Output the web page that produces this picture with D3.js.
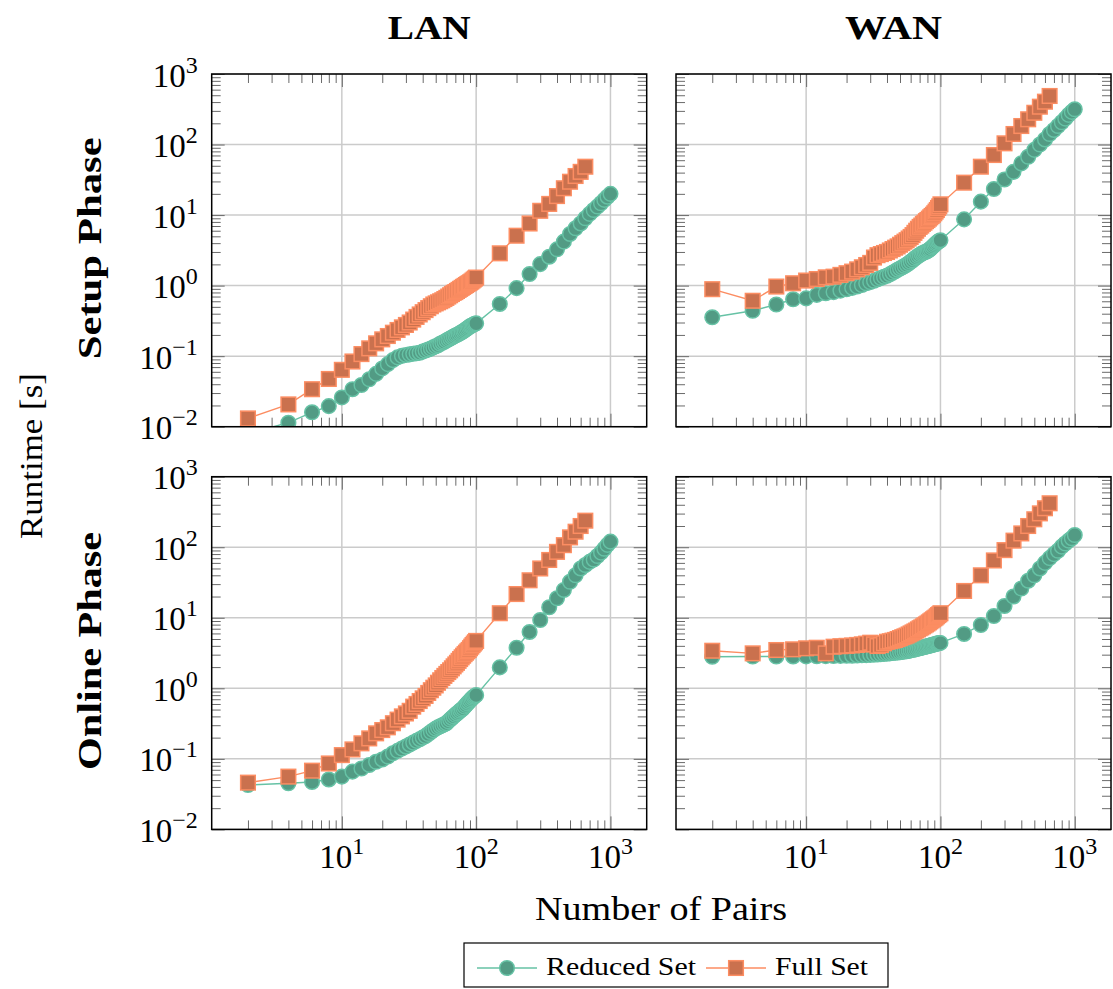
<!DOCTYPE html>
<html>
<head>
<meta charset="utf-8">
<script src="https://cdn.jsdelivr.net/npm/d3@7"></script>
<style>
  body { margin: 0; background: #fff; }
  svg text { font-family: "Liberation Serif", "DejaVu Serif", serif; fill: #000; }
</style>
</head>
<body>
<div id="chart"></div>
<script>
// x values (number of pairs)
const xReduced = [2,4,6,8,10,12,14,16,18,20,22,24,26,28,30,32,34,36,38,40,42,44,46,48,50,
  52,54,56,58,60,62,64,66,68,70,72,74,76,78,80,82,84,86,88,90,92,94,96,98,100,
  150,200,250,300,350,400,450,500,550,600,650,700,750,800,850,900,950,1000];
const xFull = [2,4,6,8,10,12,14,16,18,20,22,24,26,28,30,32,34,36,38,40,42,44,46,48,50,
  52,54,56,58,60,62,64,66,68,70,72,74,76,78,80,82,84,86,88,90,92,94,96,98,100,
  150,200,250,300,350,400,450,500,550,600,650];

// runtimes [s]
const lanSetupReduced = [0.008,0.0114,0.016,0.0196,0.026,0.034,0.039,0.047,0.056,0.067,
  0.077,0.088,0.096,0.101,0.104,0.106,0.108,0.11,0.112,0.116,
  0.12,0.124,0.128,0.133,0.138,0.143,0.15,0.155,0.16,0.166,
  0.172,0.178,0.184,0.19,0.196,0.2,0.206,0.212,0.218,0.225,
  0.232,0.24,0.248,0.256,0.264,0.27,0.276,0.282,0.288,0.292,
  0.55,0.92,1.46,2.02,2.57,3.27,4.2,5.4,6.5,7.6,9.0,10.4,11.8,13.2,14.7,16.4,18.2,20];
const lanSetupFull = [0.0131,0.0207,0.034,0.0475,0.064,0.084,0.107,0.129,0.152,0.173,
  0.193,0.215,0.235,0.256,0.277,0.3,0.33,0.36,0.39,0.42,
  0.45,0.48,0.51,0.54,0.56,0.58,0.6,0.62,0.645,0.67,
  0.7,0.73,0.76,0.79,0.81,0.84,0.87,0.9,0.93,0.96,
  0.99,1.02,1.05,1.08,1.11,1.14,1.18,1.22,1.26,1.3,
  2.87,5.1,7.6,11.5,14.4,18.6,24,29.7,35.8,41,48.5];
const wanSetupReduced = [0.356,0.44,0.54,0.64,0.66,0.74,0.78,0.81,0.85,0.89,
  0.93,0.97,1.02,1.08,1.12,1.17,1.23,1.28,1.33,1.38,
  1.45,1.52,1.6,1.68,1.75,1.82,1.9,1.98,2.08,2.18,
  2.28,2.4,2.52,2.62,2.72,2.82,2.9,2.96,3.02,3.1,
  3.2,3.3,3.45,3.6,3.75,3.9,4.05,4.2,4.3,4.4,
  8.7,15.5,23.4,32,41,54,67,84,100,118,141,161,183,207,233,263,290,316];
const wanSetupFull = [0.89,0.61,0.97,1.08,1.18,1.24,1.31,1.34,1.42,1.5,
  1.58,1.7,1.82,1.96,2.1,2.5,2.7,2.8,2.9,3.0,
  3.15,3.3,3.45,3.6,3.8,4.0,4.2,4.4,4.65,4.9,
  5.2,5.6,6.0,6.4,6.8,7.1,7.5,7.8,8.2,8.5,
  8.9,9.3,9.7,10.1,10.6,11.2,11.8,12.6,13.3,14.2,
  28.8,48.5,71,104,141,183,228,282,344,405,488];
const lanOnlineReduced = [0.0425,0.045,0.047,0.051,0.056,0.066,0.073,0.082,0.091,0.098,
  0.108,0.12,0.13,0.14,0.15,0.16,0.17,0.18,0.19,0.2,
  0.21,0.225,0.24,0.255,0.268,0.28,0.29,0.3,0.31,0.32,
  0.34,0.36,0.38,0.4,0.42,0.44,0.46,0.48,0.5,0.52,
  0.55,0.58,0.61,0.64,0.67,0.7,0.73,0.76,0.78,0.8,
  1.98,3.76,6.3,9.3,14.1,18.9,24.8,32.4,40,50,56,62,67,75,84,95,108,120];
const lanOnlineFull = [0.046,0.056,0.068,0.086,0.113,0.136,0.166,0.195,0.23,0.256,
  0.28,0.32,0.36,0.4,0.44,0.48,0.55,0.6,0.66,0.72,
  0.78,0.86,0.94,1.02,1.1,1.2,1.3,1.4,1.5,1.6,
  1.7,1.8,1.92,2.05,2.18,2.3,2.45,2.6,2.75,2.9,
  3.05,3.2,3.35,3.5,3.7,3.9,4.1,4.3,4.5,4.7,
  11.6,21.7,34,50,66,86,107,138,166,200,238];
const wanOnlineReduced = [2.8,2.82,2.82,2.83,2.84,2.85,2.86,2.87,2.88,2.89,
  2.9,2.92,2.94,2.96,2.98,3.0,3.02,3.05,3.08,3.1,
  3.13,3.16,3.19,3.22,3.25,3.28,3.32,3.36,3.4,3.45,
  3.5,3.55,3.6,3.65,3.7,3.75,3.8,3.85,3.9,3.95,
  4.0,4.05,4.1,4.15,4.2,4.25,4.3,4.33,4.37,4.4,
  5.9,7.9,10.6,14.7,20,26,33.5,40,50,60,70,80,89,102,113,124,134,149];
const wanOnlineFull = [3.41,3.13,3.49,3.57,3.69,3.76,3.13,3.89,3.95,4.0,
  4.05,4.12,4.2,4.3,4.43,4.2,3.98,4.1,4.35,4.57,
  4.65,4.75,4.85,5.0,5.15,5.3,5.45,5.6,5.8,6.0,
  6.2,6.4,6.6,6.85,7.1,7.3,7.55,7.8,8.05,8.3,
  8.6,8.9,9.2,9.5,9.8,10.1,10.5,10.9,11.2,11.6,
  24,40,65,91,124,157,200,249,302,357,420];

const columnTitles = ['LAN', 'WAN'];
const rowTitles = ['Setup Phase', 'Online Phase'];
const seriesNames = ['Reduced Set', 'Full Set'];
const xTickValues = [10, 100, 1000];
const yTickValues = [0.01, 0.1, 1, 10, 100, 1000];

const COLORS = {
    reducedLine: '#66c2a5', reducedFill: '#529b84',
    fullLine: '#fc8d62', fullFill: '#ca714e',
    grid: '#cbcbcb', tick: '#6a6a6a'
};

const W = 1113, H = 989;
const colX = [211.7, 676];
const rowY = [74, 476.7];
const PW = 435, PH = 352.7;

const panels = [
    { row: 0, col: 0, reduced: lanSetupReduced, full: lanSetupFull },
    { row: 0, col: 1, reduced: wanSetupReduced, full: wanSetupFull },
    { row: 1, col: 0, reduced: lanOnlineReduced, full: lanOnlineFull },
    { row: 1, col: 1, reduced: wanOnlineReduced, full: wanOnlineFull }
];

const svg = d3.select('#chart').append('svg')
    .attr('width', W)
    .attr('height', H)
    .attr('font-family', '"Liberation Serif", "DejaVu Serif", serif');

const isPow10 = v => Math.abs(Math.log10(v) - Math.round(Math.log10(v))) < 1e-9;
const expLabel = v => {
    const e = Math.round(Math.log10(v));
    return e < 0 ? '\u2212' + Math.abs(e) : String(e);
};

panels.forEach((p, i) => {
    const x = d3.scaleLog().domain([Math.pow(10, 0.0311), Math.pow(10, 3.2699)]).range([0, PW]);
    const y = d3.scaleLog().domain([0.01, 1000]).range([PH, 0]);

    const g = svg.append('g')
        .attr('transform', `translate(${colX[p.col]},${rowY[p.row]})`);

    // clip
    g.append('clipPath').attr('id', 'clip' + i)
        .append('rect').attr('width', PW).attr('height', PH);

    const xMajor = x.ticks().filter(isPow10);
    const xMinor = x.ticks().filter(v => !isPow10(v));
    const yMajor = y.ticks().filter(isPow10);
    const yMinor = y.ticks().filter(v => !isPow10(v));

    // Grid
    g.append('g').selectAll('line').data(xMajor).join('line')
        .attr('x1', d => x(d)).attr('x2', d => x(d))
        .attr('y1', 0).attr('y2', PH)
        .attr('stroke', COLORS.grid).attr('stroke-width', 1.5);
    g.append('g').selectAll('line').data(yMajor).join('line')
        .attr('x1', 0).attr('x2', PW)
        .attr('y1', d => y(d)).attr('y2', d => y(d))
        .attr('stroke', COLORS.grid).attr('stroke-width', 1.5);

    // Ticks (inside, all four sides)
    const addAxis = (axis, tr) => {
        const a = g.append('g').attr('transform', tr).call(axis);
        a.select('.domain').remove();
        a.selectAll('line').attr('stroke', COLORS.tick).attr('stroke-width', 1);
        a.selectAll('text').remove();
    };
    [[xMinor, 9], [xMajor, 13]].forEach(([vals, len]) => {
        addAxis(d3.axisBottom(x).tickValues(vals).tickSize(-len).tickFormat(''), `translate(0,${PH})`);
        addAxis(d3.axisTop(x).tickValues(vals).tickSize(-len).tickFormat(''), 'translate(0,0)');
    });
    [[yMinor, 9], [yMajor, 13]].forEach(([vals, len]) => {
        addAxis(d3.axisLeft(y).tickValues(vals).tickSize(-len).tickFormat(''), 'translate(0,0)');
        addAxis(d3.axisRight(y).tickValues(vals).tickSize(-len).tickFormat(''), `translate(${PW},0)`);
    });

    // Series
    const plot = g.append('g').attr('clip-path', `url(#clip${i})`);
    const line = d3.line().x(d => x(d[0])).y(d => y(d[1]));

    const reducedData = xReduced.map((v, k) => [v, p.reduced[k]]);
    const fullData = xFull.map((v, k) => [v, p.full[k]]);

    plot.append('path').datum(reducedData)
        .attr('d', line).attr('fill', 'none')
        .attr('stroke', COLORS.reducedLine).attr('stroke-width', 1.4);
    plot.append('g').selectAll('circle').data(reducedData).join('circle')
        .attr('cx', d => x(d[0])).attr('cy', d => y(d[1]))
        .attr('r', 7.3)
        .attr('fill', COLORS.reducedFill)
        .attr('stroke', COLORS.reducedLine).attr('stroke-width', 1.5);

    plot.append('path').datum(fullData)
        .attr('d', line).attr('fill', 'none')
        .attr('stroke', COLORS.fullLine).attr('stroke-width', 1.4);
    plot.append('g').selectAll('rect').data(fullData).join('rect')
        .attr('x', d => x(d[0]) - 7.3).attr('y', d => y(d[1]) - 7.3)
        .attr('width', 14.6).attr('height', 14.6)
        .attr('fill', COLORS.fullFill)
        .attr('stroke', COLORS.fullLine).attr('stroke-width', 1.5);

    // Border
    g.append('rect').attr('width', PW).attr('height', PH)
        .attr('fill', 'none').attr('stroke', '#000').attr('stroke-width', 1.5);

    // Y tick labels (left column)
    if (p.col === 0) {
        const t = g.append('g').selectAll('text').data(yTickValues).join('text')
            .attr('x', -14).attr('y', d => y(d) + 12.5)
            .attr('text-anchor', 'end')
            .attr('font-size', 33);
        t.append('tspan').text('10');
        t.append('tspan').attr('dy', -14).attr('font-size', 24).text(d => expLabel(d));
    }
    // X tick labels (bottom row)
    if (p.row === 1) {
        const t = g.append('g').selectAll('text').data(xTickValues).join('text')
            .attr('x', d => x(d)).attr('y', PH + 39)
            .attr('text-anchor', 'middle')
            .attr('font-size', 33);
        t.append('tspan').text('10');
        t.append('tspan').attr('dy', -14).attr('font-size', 24).text(d => expLabel(d));
    }
});

// Column titles
columnTitles.forEach((title, c) => {
    svg.append('text')
        .attr('x', colX[c] + PW / 2).attr('y', 39)
        .attr('text-anchor', 'middle')
        .attr('font-size', 33).attr('font-weight', 'bold')
        .attr('textLength', c === 0 ? 83 : 97).attr('lengthAdjust', 'spacingAndGlyphs')
        .text(title);
});

// Row titles
rowTitles.forEach((title, r) => {
    svg.append('text')
        .attr('transform', `translate(101,${rowY[r] + PH / 2 - 2}) rotate(-90)`)
        .attr('text-anchor', 'middle')
        .attr('font-size', 33).attr('font-weight', 'bold')
        .attr('textLength', r === 0 ? 222 : 238).attr('lengthAdjust', 'spacingAndGlyphs')
        .text(title);
});

// Axis labels
svg.append('text')
    .attr('transform', 'translate(42,456) rotate(-90)')
    .attr('text-anchor', 'middle')
    .attr('font-size', 32)
    .attr('textLength', 166).attr('lengthAdjust', 'spacingAndGlyphs')
    .text('Runtime [s]');

svg.append('text')
    .attr('x', 661).attr('y', 920)
    .attr('text-anchor', 'middle')
    .attr('font-size', 33)
    .attr('textLength', 252).attr('lengthAdjust', 'spacingAndGlyphs')
    .text('Number of Pairs');

// Legend
const legend = svg.append('g');
legend.append('rect')
    .attr('x', 464).attr('y', 943).attr('width', 424).attr('height', 44)
    .attr('fill', '#fff').attr('stroke', '#000').attr('stroke-width', 1.2);

const legendItems = [
    { name: seriesNames[0], lineX: 477, textX: 546, textLen: 150, line: COLORS.reducedLine, fill: COLORS.reducedFill, shape: 'circle' },
    { name: seriesNames[1], lineX: 706, textX: 775, textLen: 93, line: COLORS.fullLine, fill: COLORS.fullFill, shape: 'square' }
];
legendItems.forEach(it => {
    const cy = 968;
    legend.append('line')
        .attr('x1', it.lineX).attr('x2', it.lineX + 60)
        .attr('y1', cy).attr('y2', cy)
        .attr('stroke', it.line).attr('stroke-width', 1.4);
    if (it.shape === 'circle') {
        legend.append('circle').attr('cx', it.lineX + 30).attr('cy', cy).attr('r', 7.3)
            .attr('fill', it.fill).attr('stroke', it.line).attr('stroke-width', 1.5);
    } else {
        legend.append('rect').attr('x', it.lineX + 30 - 7.3).attr('y', cy - 7.3)
            .attr('width', 14.6).attr('height', 14.6)
            .attr('fill', it.fill).attr('stroke', it.line).attr('stroke-width', 1.5);
    }
    legend.append('text')
        .attr('x', it.textX).attr('y', 975)
        .attr('font-size', 25)
        .attr('textLength', it.textLen).attr('lengthAdjust', 'spacingAndGlyphs')
        .text(it.name);
});
</script>
</body>
</html>
